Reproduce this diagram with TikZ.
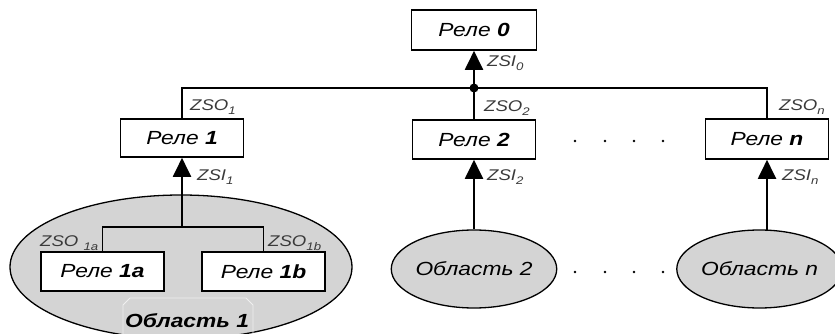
\documentclass[tikz,border=0pt]{standalone}
\usepackage{fontspec}
\setmainfont{Liberation Sans}[
  FakeStretch=1.2,
  ItalicFeatures={FakeStretch=1.2},
  BoldFeatures={FakeStretch=1.2},
  BoldItalicFeatures={FakeStretch=1.2}]
\usetikzlibrary{arrows.meta,shapes.geometric}
\definecolor{ellfill}{HTML}{D4D4D4}
\definecolor{lblgray}{HTML}{3A3A3A}
\newcommand\lsub[1]{\raisebox{-0.45ex}{\fontsize{11}{11}\selectfont #1}}
\tikzset{
  relay/.style={draw=black, line width=1.6pt, fill=white, minimum width=123pt, minimum height=39pt, inner sep=0pt,
    font=\itshape\fontsize{19}{21}\selectfont},
  area/.style={draw=black, line width=1.3pt, fill=ellfill, ellipse, inner sep=0pt,
    font=\itshape\fontsize{19}{21}\selectfont},
  wire/.style={line width=2pt},
  zarrow/.style={line width=2pt, -{Triangle[width=18pt,length=19pt]}},
  lbl/.style={text=lblgray, anchor=west, inner sep=0pt, font=\itshape\fontsize{15.5}{16}\selectfont},
  dotmark/.style={fill=black, circle, inner sep=0pt, minimum size=2.8pt},
}
\begin{document}
\begin{tikzpicture}[x=1pt,y=-1pt]
\useasboundingbox (0,0) rectangle (835,334);
\begin{scope}
\clip (0,0) rectangle (835,334);
% areas
\node[area, minimum width=342pt, minimum height=144pt] (ell1) at (181,267) {};
\draw[white!65!ellfill, line width=0.8pt] (123,336) -- (123,305) -- (130,298) -- (246,298) -- (253,305) -- (253,336);
\node[font=\bfseries\itshape\fontsize{19}{21}\selectfont, inner sep=0pt] (lbl1) at (187,321) {Область 1};
\end{scope}
\node[area, minimum width=160pt, minimum height=78pt] (ell2) at (474,269) {Область 2};
\node[area, minimum width=149pt, minimum height=78pt] (elln) at (759.5,269) {Область n};

% relays
\node[relay, minimum width=125pt, minimum height=40pt] (r0) at (474,30) {Реле \textbf{0}};
\node[relay, minimum height=38pt] (r1) at (182,138) {Реле \textbf{1}};
\node[relay] (r2) at (474,139.5) {Реле \textbf{2}};
\node[relay, minimum height=40pt] (rn) at (767,139) {Реле \textbf{n}};
\node[relay] (r1a) at (102.5,271.5) {Реле \textbf{1a}};
\node[relay] (r1b) at (263.5,271.5) {Реле \textbf{1b}};

% bus
\coordinate (bus) at (474,88);
\coordinate (j1) at (182,227);
\coordinate (entn) at (767,231);
\draw[wire] (r1.north) |- (bus) -| (rn.north);
\draw[wire] (bus) -- (r2.north);
\node[dotmark, minimum size=9pt] (busdot) at (bus) {};
\draw[zarrow] (bus) -- (r0.south);

% sub-tree in area 1
\draw[wire, line width=1.5pt] (r1a.north) |- (j1) -| (r1b.north);
\draw[zarrow] (j1) -- (r1.south);
\draw[zarrow] (ell2.north) -- (r2.south);
\draw[zarrow] (entn) -- (rn.south);

% labels
\node[lbl] (zsi0) at (487,63) {ZSI\lsub{0}};
\node[lbl] (zso1) at (190,107) {ZSO\lsub{1}};
\node[lbl] (zso2) at (484,108) {ZSO\lsub{2}};
\node[lbl] (zson) at (779,107) {ZSO\lsub{n}};
\node[lbl] (zsi1) at (197,177) {ZSI\lsub{1}};
\node[lbl] (zsi2) at (487,177) {ZSI\lsub{2}};
\node[lbl] (zsin) at (782,177) {ZSI\lsub{n}};
\node[lbl] (zso1a) at (40,243) {ZSO \lsub{1a}};
\node[lbl] (zso1b) at (268,243) {ZSO\lsub{1b}};

% dots
\foreach \x [count=\i] in {575,605,634,663} {
  \node[dotmark] (du\i) at (\x,141) {};
  \node[dotmark] (dl\i) at (\x,272) {};
}
\end{tikzpicture}
\end{document}
